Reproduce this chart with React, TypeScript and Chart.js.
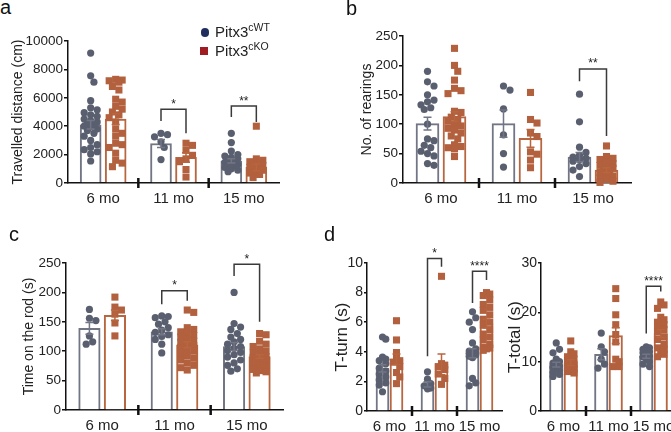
import React, { useEffect, useRef } from 'react';
import { Chart, registerables } from 'chart.js';
Chart.register(...registerables);

const FONT = '"Liberation Sans", Arial, Helvetica, sans-serif';
const AGES = ['6 mo', '11 mo', '15 mo'];

// ---- a: Travelled distance (cm)
const distWT6 = [9150, 7550, 7100, 5800, 5300, 5150, 4950, 4800, 4700, 4500, 4400, 4300, 4200, 4100, 4000, 3950, 3800, 3700, 3500, 3300, 3000, 2700, 2500, 2350, 2200, 2050, 1550];
const distKO6 = [7300, 7250, 7200, 7100, 6800, 6550, 5900, 5700, 5400, 5200, 5000, 4800, 4600, 4300, 3800, 3500, 3300, 2800, 2700, 2500, 2100, 1600, 1400, 1150];
const distWT11 = [3500, 3400, 3250, 2900, 2500, 1650];
const distKO11 = [2800, 2650, 2300, 1950, 1700, 1500, 950, 420];
const distWT15 = [3500, 2850, 2250, 2000, 1900, 1800, 1700, 1600, 1500, 1450, 1400, 1300, 1250, 1200, 1100, 1000, 900, 800];
const distKO15 = [4000, 1700, 1600, 1500, 1400, 1300, 1250, 1200, 1100, 1000, 950, 900, 800, 700, 600, 380];
const distWTMean = [4100, 2780, 1550];
const distKOMean = [4500, 1800, 1100];
const distWTSem = [300, 280, 150];
const distKOSem = [380, 330, 230];
const distBrackets = [
  { group: 1, top: 5200, left: 4370, right: 3500, label: '*' },
  { group: 2, top: 5420, left: 4650, right: 4300, label: '**' },
];

// ---- b: No. of rearings
const rearWT6 = [190, 172, 165, 150, 141, 138, 133, 128, 125, 100, 75, 72, 64, 60, 54, 50, 46, 33, 30];
const rearKO6 = [229, 200, 190, 175, 161, 157, 152, 122, 120, 112, 108, 105, 100, 97, 93, 90, 85, 80, 75, 65, 62, 60, 58, 45];
const rearWT11 = [165, 158, 126, 82, 50, 27];
const rearKO11 = [154, 108, 102, 85, 79, 53, 49, 39, 26];
const rearWT15 = [151, 104, 61, 52, 47, 44, 42, 40, 37, 33, 28, 22, 11];
const rearKO15 = [63, 45, 42, 40, 36, 33, 30, 28, 25, 22, 20, 18, 15, 12, 9, 6, 3, 1];
const rearWTMean = [101, 101, 44];
const rearKOMean = [113, 76, 22];
const rearWTSem = [11, 23, 8];
const rearKOSem = [8, 15, 4];
const rearBrackets = [{ group: 2, top: 194, left: 173, right: 80, label: '**' }];

// ---- c: Time on the rod (s)
const rodWT6 = [171, 156, 152, 126, 116, 112];
const rodKO6 = [192, 175, 170, 163, 148, 126];
const rodWT11 = [160, 159, 157, 150, 146, 140, 136, 132, 128, 125, 120, 112, 97];
const rodKO11 = [170, 166, 140, 137, 133, 130, 127, 124, 120, 117, 115, 112, 110, 106, 103, 100, 96, 92, 88, 85, 80, 76, 72, 68];
const rodWT15 = [200, 147, 141, 137, 130, 124, 120, 116, 112, 108, 105, 101, 98, 94, 90, 85, 80, 76, 70, 66];
const rodKO15 = [130, 128, 117, 112, 108, 104, 100, 97, 94, 91, 89, 87, 85, 83, 81, 79, 77, 75, 73, 71, 69, 67, 65, 63];
const rodWTMean = [139, 133, 108];
const rodKOMean = [161, 111, 91];
const rodWTSem = [10, 5, 7];
const rodKOSem = [9, 5, 3];
const rodBrackets = [
  { group: 1, top: 203, left: 180, right: 186, label: '*' },
  { group: 2, top: 248, left: 228, right: 150, label: '*' },
];

// ---- d1: T-turn (s)
const turnWT6 = [5.0, 4.85, 3.65, 3.5, 3.4, 3.2, 2.9, 2.7, 2.5, 2.3, 2.1, 1.9, 1.75, 1.3];
const turnKO6 = [6.1, 4.8, 3.95, 3.5, 3.4, 3.3, 3.0, 2.6, 2.3, 1.85];
const turnWT11 = [2.65, 2.15, 1.85, 1.7, 1.55, 1.5];
const turnKO11 = [9.1, 3.2, 3.1, 3.0, 2.8, 2.5, 2.2, 1.8];
const turnWT15 = [6.7, 6.3, 6.0, 5.5, 4.6, 4.2, 4.05, 4.0, 3.95, 3.9, 3.85, 3.8, 3.7, 3.6, 2.2, 1.9, 1.7];
const turnKO15 = [8.0, 7.9, 7.8, 7.5, 7.2, 7.0, 6.8, 6.5, 6.2, 6.0, 5.8, 5.5, 5.2, 5.0, 4.8, 4.5, 4.3, 4.25, 4.2, 4.1];
const turnWTMean = [2.88, 1.8, 3.9];
const turnKOMean = [3.5, 3.15, 5.9];
const turnWTSem = [0.25, 0.18, 0.3];
const turnKOSem = [0.35, 0.7, 0.3];
const turnBrackets = [
  { group: 1, top: 10.3, left: 3.7, right: 9.75, label: '*' },
  { group: 2, top: 9.45, left: 7.3, right: 8.85, label: '****' },
];

// ---- d2: T-total (s)
const totWT6 = [13.8, 12.5, 11.8, 10.5, 10.0, 9.7, 9.4, 9.1, 8.8, 8.5, 8.2, 7.8, 7.4, 7.0];
const totKO6 = [14.2, 12.0, 11.6, 11.0, 10.5, 10.0, 9.5, 9.0, 8.5, 8.0, 7.7];
const totWT11 = [15.8, 13.0, 12.0, 10.5, 9.5, 8.7];
const totKO11 = [24.8, 22.8, 19.5, 17.5, 15.5, 14.0, 10.5, 10.0, 9.0, 9.0];
const totWT15 = [13.0, 12.8, 12.5, 12.2, 12.0, 11.8, 11.5, 11.2, 11.0, 10.5, 10.0, 9.5, 9.0];
const totKO15 = [22.1, 21.5, 20.8, 19.0, 18.5, 18.0, 17.5, 17.0, 16.5, 16.0, 15.0, 14.5, 13.5, 12.8, 12.5, 12.0, 11.5, 11.0];
const totWTMean = [9.4, 11.5, 11.1];
const totKOMean = [9.8, 15.3, 15.7];
const totWTSem = [0.5, 1.1, 0.4];
const totKOSem = [0.6, 1.6, 0.8];
const totBrackets = [{ group: 2, top: 25.3, left: 15.7, right: 24.2, label: '****' }];

const WT_PT = '#5a5f70';
const KO_PT = '#b2603d';
const WT_BAR = '#717584';
const KO_BAR = '#b7663f';
const AXIS = '#111';
const TEXT = '#222';

type Bracket = { group: number; top: number; left: number; right: number; label: string };
type Spec = {
  wt: number[][]; ko: number[][];
  wtMean: number[]; koMean: number[]; wtSem: number[]; koSem: number[];
  yMax: number; yStep: number; yTitle: string; titleSize: number; tickSize: number;
  brackets: Bracket[];
  area: { l: number; t: number; r: number; b: number };
  canvasLeft: number; titleCenter: number; barPx: number; gapPx: number; tickLen: number; tickPad: number;
};

const SPECS: Spec[] = [
  {
    wt: [distWT6, distWT11, distWT15], ko: [distKO6, distKO11, distKO15],
    wtMean: distWTMean, koMean: distKOMean, wtSem: distWTSem, koSem: distKOSem,
    yMax: 10000, yStep: 2000, yTitle: 'Travelled distance (cm)', titleSize: 14, tickSize: 13.5,
    brackets: distBrackets, area: { l: 68, t: 41, r: 279, b: 183 }, canvasLeft: 0, titleCenter: 18,
    barPx: 21, gapPx: 4, tickLen: 4, tickPad: 1,
  },
  {
    wt: [rearWT6, rearWT11, rearWT15], ko: [rearKO6, rearKO11, rearKO15],
    wtMean: rearWTMean, koMean: rearKOMean, wtSem: rearWTSem, koSem: rearKOSem,
    yMax: 250, yStep: 50, yTitle: 'No. of rearings', titleSize: 14, tickSize: 13.5,
    brackets: rearBrackets, area: { l: 403, t: 36, r: 631, b: 183 }, canvasLeft: 345, titleCenter: 367,
    barPx: 23, gapPx: 4, tickLen: 4, tickPad: 1,
  },
  {
    wt: [rodWT6, rodWT11, rodWT15], ko: [rodKO6, rodKO11, rodKO15],
    wtMean: rodWTMean, koMean: rodKOMean, wtSem: rodWTSem, koSem: rodKOSem,
    yMax: 250, yStep: 50, yTitle: 'Time on the rod (s)', titleSize: 14, tickSize: 13.5,
    brackets: rodBrackets, area: { l: 66, t: 263, r: 283, b: 410 }, canvasLeft: 8, titleCenter: 29,
    barPx: 21.5, gapPx: 4, tickLen: 4, tickPad: 1,
  },
  {
    wt: [turnWT6, turnWT11, turnWT15], ko: [turnKO6, turnKO11, turnKO15],
    wtMean: turnWTMean, koMean: turnKOMean, wtSem: turnWTSem, koSem: turnKOSem,
    yMax: 10, yStep: 2, yTitle: 'T-turn (s)', titleSize: 17, tickSize: 14,
    brackets: turnBrackets, area: { l: 367, t: 263, r: 502, b: 411 }, canvasLeft: 330, titleCenter: 342,
    barPx: 13, gapPx: 1, tickLen: 3, tickPad: 1,
  },
  {
    wt: [totWT6, totWT11, totWT15], ko: [totKO6, totKO11, totKO15],
    wtMean: totWTMean, koMean: totKOMean, wtSem: totWTSem, koSem: totKOSem,
    yMax: 30, yStep: 10, yTitle: 'T-total (s)', titleSize: 17, tickSize: 14,
    brackets: totBrackets, area: { l: 541, t: 263, r: 676, b: 411 }, canvasLeft: 503, titleCenter: 515,
    barPx: 13.5, gapPx: 1, tickLen: 3, tickPad: 1,
  },
];

// deterministic beeswarm: horizontal pixel offsets so that points with close values do not overlap
function swarm(vals: number[], pxPerUnit: number, maxHalf: number, diam: number): number[] {
  const placed: { x: number; y: number }[] = [];
  const step = diam / 2;
  const n = Math.max(1, Math.floor(maxHalf / step));
  return vals.map((v) => {
    const y = v * pxPerUnit;
    let best = 0;
    let bestScore = -Infinity;
    for (let k = 0; k <= 2 * n; k++) {
      const x = k === 0 ? 0 : (k % 2 ? 1 : -1) * Math.ceil(k / 2) * step;
      let minD = Infinity;
      for (const p of placed) minD = Math.min(minD, Math.hypot(p.x - x, p.y - y));
      if (minD >= diam) { best = x; break; }
      if (minD > bestScore) { bestScore = minD; best = x; }
    }
    placed.push({ x: best, y });
    return best;
  });
}

const PAD_TOP = 22;
const PAD_RIGHT = 12;
const X_H = 32;

function Panel({ spec }: { spec: Spec }) {
  const ref = useRef<HTMLCanvasElement>(null);
  const { area, canvasLeft } = spec;
  const top = area.t - PAD_TOP;
  const width = area.r - canvasLeft + PAD_RIGHT;
  const height = area.b + X_H - top;
  const yW = area.l - canvasLeft;

  useEffect(() => {
    const groupW = (area.r - area.l) / 3;
    const pxPerUnit = (area.b - area.t) / spec.yMax;
    const side = (spec.barPx + spec.gapPx) / 2 / groupW; // bar centre offset, in group units
    const maxHalf = Math.max(spec.barPx / 2 - 2, 4);
    const mkPts = (groups: number[][], dir: number) =>
      groups.flatMap((vals, g) => {
        const offs = swarm(vals, pxPerUnit, maxHalf, 6.5);
        return vals.map((v, i) => ({ x: g + dir * side + offs[i] / groupW, y: v }));
      });
    const mkBars = (means: number[], dir: number) => means.map((m, g) => ({ x: g + dir * side, y: m }));

    const deco = {
      id: 'deco',
      afterDatasetsDraw(chart: any) {
        const ctx = chart.ctx;
        const ys = chart.scales.y;
        const xs = chart.scales.x;
        ctx.save();
        const series: [number, number[], number[], string][] = [
          [2, spec.wtMean, spec.wtSem, WT_BAR],
          [3, spec.koMean, spec.koSem, KO_BAR],
        ];
        series.forEach(([di, means, sems, color]) => {
          const meta = chart.getDatasetMeta(di);
          ctx.strokeStyle = color;
          ctx.lineWidth = 1.5;
          meta.data.forEach((el: any, i: number) => {
            const cx = el.x;
            const yt = ys.getPixelForValue(means[i] + sems[i]);
            const yb = ys.getPixelForValue(Math.max(0, means[i] - sems[i]));
            const cap = 4;
            ctx.beginPath();
            ctx.moveTo(cx, yt); ctx.lineTo(cx, yb);
            ctx.moveTo(cx - cap, yt); ctx.lineTo(cx + cap, yt);
            ctx.moveTo(cx - cap, yb); ctx.lineTo(cx + cap, yb);
            ctx.stroke();
          });
        });
        // group divider ticks on the x axis
        const bottom = chart.chartArea.bottom;
        ctx.fillStyle = AXIS;
        [0.5, 1.5].forEach((v) => {
          const px = xs.getPixelForValue(v);
          ctx.fillRect(px - 1.25, bottom - 5, 2.5, 10);
        });
        // significance brackets
        const wtMeta = chart.getDatasetMeta(2);
        const koMeta = chart.getDatasetMeta(3);
        ctx.strokeStyle = '#3a3a3a';
        ctx.lineWidth = 1.5;
        ctx.fillStyle = '#222';
        ctx.font = `12px ${FONT}`;
        ctx.textAlign = 'center';
        ctx.textBaseline = 'alphabetic';
        spec.brackets.forEach((b) => {
          const xl = wtMeta.data[b.group].x;
          const xr = koMeta.data[b.group].x;
          const yt = ys.getPixelForValue(b.top);
          ctx.beginPath();
          ctx.moveTo(xl, ys.getPixelForValue(b.left));
          ctx.lineTo(xl, yt);
          ctx.lineTo(xr, yt);
          ctx.lineTo(xr, ys.getPixelForValue(b.right));
          ctx.stroke();
          ctx.fillText(b.label, (xl + xr) / 2, yt - 1.5);
        });
        ctx.restore();
      },
    };

    const barCommon = {
      type: 'bar', xAxisID: 'x', yAxisID: 'y', backgroundColor: '#ffffff', borderWidth: 2, order: 2,
      grouped: false, barThickness: spec.barPx, maxBarThickness: spec.barPx,
    };

    const chart = new Chart(ref.current as HTMLCanvasElement, {
      type: 'bar',
      data: {
        datasets: [
          {
            type: 'scatter', label: 'WT points', xAxisID: 'x', yAxisID: 'y',
            data: mkPts(spec.wt, -1), pointStyle: 'circle', pointRadius: 3.6, pointHoverRadius: 3.6,
            backgroundColor: WT_PT, borderWidth: 0, order: 1, clip: false,
          } as any,
          {
            type: 'scatter', label: 'KO points', xAxisID: 'x', yAxisID: 'y',
            data: mkPts(spec.ko, 1), pointStyle: 'rect', pointRadius: 5, pointHoverRadius: 5,
            backgroundColor: KO_PT, borderWidth: 0, order: 1, clip: false,
          } as any,
          { ...barCommon, label: 'Pitx3cWT', data: mkBars(spec.wtMean, -1), borderColor: WT_BAR } as any,
          { ...barCommon, label: 'Pitx3cKO', data: mkBars(spec.koMean, 1), borderColor: KO_BAR } as any,
        ],
      },
      options: {
        responsive: false,
        animation: false,
        events: [],
        layout: { padding: { top: PAD_TOP, right: PAD_RIGHT, left: 0, bottom: 0 } },
        plugins: { legend: { display: false }, tooltip: { enabled: false } },
        scales: {
          x: {
            type: 'linear', min: -0.5, max: 2.5, offset: false,
            afterBuildTicks: (s: any) => { s.ticks = [0, 1, 2].map((v) => ({ value: v })); },
            grid: { display: true, drawOnChartArea: false, drawTicks: false },
            border: { display: true, color: AXIS, width: 1.5 },
            ticks: {
              font: { family: FONT, size: 15 }, color: TEXT, padding: 7, maxRotation: 0, autoSkip: false,
              callback: (v: any) => AGES[Math.round(Number(v))] ?? '',
            },
            afterFit: (s: any) => { s.height = X_H; },
          },
          y: {
            type: 'linear', min: 0, max: spec.yMax,
            ticks: {
              stepSize: spec.yStep, font: { family: FONT, size: spec.tickSize }, color: TEXT,
              padding: spec.tickPad, callback: (v: any) => String(v),
            },
            grid: { display: true, drawOnChartArea: false, drawTicks: true, tickLength: spec.tickLen, color: AXIS, lineWidth: 1.5 },
            border: { display: true, color: AXIS, width: 1.5 },
            title: {
              display: true, text: spec.yTitle, color: TEXT,
              font: { family: FONT, size: spec.titleSize },
              padding: { top: spec.titleCenter - canvasLeft - spec.titleSize * 0.6, bottom: 0 },
            },
            afterFit: (s: any) => { s.width = yW; },
          },
        } as any,
      },
      plugins: [deco],
    } as any);
    return () => chart.destroy();
  }, []);

  return (
    <canvas
      ref={ref}
      width={width}
      height={height}
      style={{ position: 'absolute', left: canvasLeft, top, width, height }}
    />
  );
}

const letterStyle = (left: number, top: number): React.CSSProperties => ({
  position: 'absolute', left, top, font: `20px ${FONT}`, lineHeight: '20px', color: '#111',
});

export default function App() {
  return (
    <div style={{ position: 'absolute', left: 0, top: 0, width: 671, height: 432, overflow: 'hidden', background: '#fff' }}>
      {SPECS.map((s, i) => <Panel key={i} spec={s} />)}
      <div style={letterStyle(0, -3)}>a</div>
      <div style={letterStyle(346, -2)}>b</div>
      <div style={letterStyle(9, 224)}>c</div>
      <div style={letterStyle(324, 224)}>d</div>
      {/* legend */}
      <div style={{ position: 'absolute', left: 200.5, top: 28, width: 8.5, height: 8.5, borderRadius: '50%', background: '#1f2e5c' }} />
      <div style={{ position: 'absolute', left: 200, top: 47, width: 8, height: 8, background: '#9f1d22' }} />
      <div style={{ position: 'absolute', left: 215, top: 24, font: `15px ${FONT}`, lineHeight: '15px', color: TEXT, whiteSpace: 'nowrap' }}>
        Pitx3<span style={{ fontSize: 10.5, position: 'relative', top: -6 }}>cWT</span>
      </div>
      <div style={{ position: 'absolute', left: 215, top: 42.5, font: `15px ${FONT}`, lineHeight: '15px', color: TEXT, whiteSpace: 'nowrap' }}>
        Pitx3<span style={{ fontSize: 10.5, position: 'relative', top: -6 }}>cKO</span>
      </div>
    </div>
  );
}
